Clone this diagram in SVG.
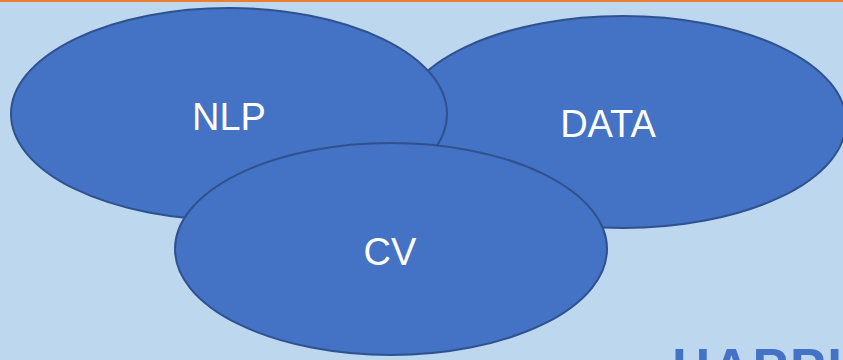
<svg xmlns="http://www.w3.org/2000/svg" width="843" height="360" viewBox="0 0 843 360">
<style>
.node ellipse{fill:#4472C4;stroke:#2F528F;stroke-width:2}
.lbl{fill:#FFFFFF;font-family:"Liberation Sans",Arial,sans-serif;font-size:38px;text-anchor:middle}
</style>
<rect width="843" height="360" fill="#BDD7EE"/>
<rect width="843" height="2" fill="#ED7D31"/>
<g id="connectors"/>
<g id="data" class="node"><ellipse cx="623" cy="122" rx="223" ry="106"/><text class="lbl" x="608" y="137">DATA</text></g>
<g id="nlp" class="node"><ellipse cx="229" cy="114" rx="218" ry="106"/><text class="lbl" x="229" y="130">NLP</text></g>
<g id="cv" class="node"><ellipse cx="391" cy="249" rx="216" ry="106"/><text class="lbl" x="390" y="265">CV</text></g>
<text x="672" y="386" fill="#4472C4" font-family="Liberation Sans,Arial,sans-serif" font-weight="bold" font-size="53" letter-spacing="2">HAPPI</text>
</svg>
